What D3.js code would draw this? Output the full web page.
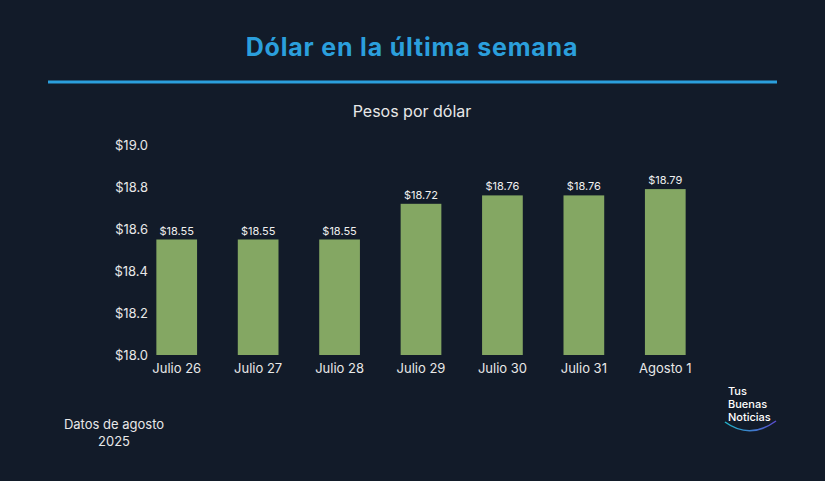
<!DOCTYPE html>
<html><head><meta charset="utf-8">
<script src="https://cdn.jsdelivr.net/npm/d3@7"></script>
<style>body{margin:0;background:#121b29;}svg{display:block;font-family:Inter,'Open Sans',sans-serif;}</style>
</head><body><svg id="c" width="825" height="481"></svg>
<script>
const categories = ["Julio 26","Julio 27","Julio 28","Julio 29","Julio 30","Julio 31","Agosto 1"];
const values = [18.55,18.55,18.55,18.72,18.76,18.76,18.79];
const yTicks = [18.0,18.2,18.4,18.6,18.8,19.0];

const svg = d3.select("#c");
svg.append("rect").attr("width",825).attr("height",481).attr("fill","#121b29");
svg.append("text").attr("x",412).attr("y",56).attr("text-anchor","middle")
  .attr("fill","#2b9fdc").attr("font-size",25).attr("font-weight",700).attr("letter-spacing",0.8).text("Dólar en la última semana");
svg.append("line").attr("x1",48).attr("x2",777).attr("y1",82).attr("y2",82).attr("stroke","#2b9fdc").attr("stroke-width",3);
svg.append("text").attr("x",412).attr("y",117).attr("text-anchor","middle")
  .attr("fill","#e8e8e8").attr("font-size",16).text("Pesos por dólar");

const x = d3.scaleBand().domain(categories).range([136,706]).paddingInner(0.5).paddingOuter(0.25);
const y = d3.scaleLinear().domain([18.0,19.0]).range([355,145]);

const ya = svg.append("g").attr("transform","translate(148,0)")
  .call(d3.axisLeft(y).tickValues(yTicks).tickSize(0).tickPadding(0).tickFormat(d=>"$"+d.toFixed(1)));
ya.select(".domain").remove();
ya.selectAll("text").attr("fill","#e8e8e8").attr("font-size",13).attr("font-family","Inter,'Open Sans',sans-serif");

svg.selectAll(".bar").data(values).enter().append("rect")
  .attr("x",(d,i)=>x(categories[i])).attr("width",x.bandwidth())
  .attr("y",d=>y(d)).attr("height",d=>y(18.0)-y(d)).attr("fill","#84a763");
svg.selectAll(".lbl").data(values).enter().append("text")
  .attr("x",(d,i)=>x(categories[i])+x.bandwidth()/2).attr("y",d=>y(d)-5)
  .attr("text-anchor","middle").attr("fill","#f0f0f0").attr("font-size",11).text(d=>"$"+d.toFixed(2));

const xa = svg.append("g").attr("transform","translate(0,355)")
  .call(d3.axisBottom(x).tickSize(0).tickPadding(9));
xa.select(".domain").remove();
xa.selectAll("text").attr("fill","#e8e8e8").attr("font-size",13).attr("font-family","Inter,'Open Sans',sans-serif");

svg.append("text").attr("x",114).attr("y",429).attr("text-anchor","middle").attr("fill","#e8e8e8").attr("font-size",13).text("Datos de agosto");
svg.append("text").attr("x",114).attr("y",446).attr("text-anchor","middle").attr("fill","#e8e8e8").attr("font-size",13).text("2025");

const lg = svg.append("g").attr("fill","#fff").attr("font-size",11).attr("font-weight",500);
lg.append("text").attr("x",728).attr("y",395).text("Tus");
lg.append("text").attr("x",728).attr("y",408).text("Buenas");
lg.append("text").attr("x",728).attr("y",421).text("Noticias");
const grad = svg.append("defs").append("linearGradient").attr("id","g1");
grad.append("stop").attr("offset","0").attr("stop-color","#1fb5c9");
grad.append("stop").attr("offset","1").attr("stop-color","#5a4bd0");
svg.append("path").attr("d","M725,422 Q750,440 776,421").attr("fill","none").attr("stroke","url(#g1)").attr("stroke-width",1.5);
</script></body></html>
